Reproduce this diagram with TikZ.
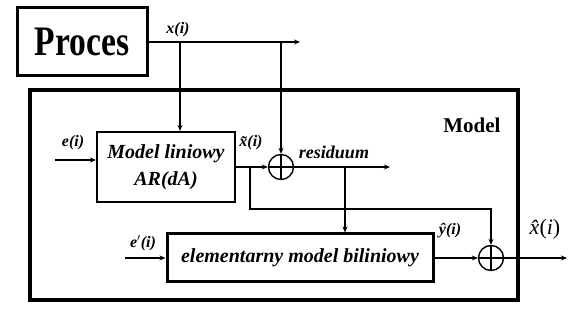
\documentclass[tikz,border=0pt]{standalone}
\usepackage{fontspec}
\newfontfamily\tms{Liberation Serif}
\usetikzlibrary{arrows.meta}
\tikzset{
  conn/.style={line width=1.6pt},
  arr/.style={conn,-{Stealth[length=6pt,width=5pt]}},
  blk/.style={draw,rectangle,inner sep=0pt,align=center,font=\tms\fontsize{20}{27}\selectfont\bfseries\itshape},
  lbl/.style={inner sep=0pt,font=\tms\fontsize{16}{16}\selectfont\bfseries\itshape},
  sumnode/.style={draw,circle,line width=1.4pt,minimum size=25pt,inner sep=0pt,
    path picture={\draw[line width=1.2pt] (path picture bounding box.north) -- (path picture bounding box.south)
      (path picture bounding box.west) -- (path picture bounding box.east);}}
}
\begin{document}
\begin{tikzpicture}[x=1pt,y=-1pt]
\useasboundingbox (0,0) rectangle (568,320);
% outer model box
\node[draw,line width=4pt,minimum width=488pt,minimum height=210pt,inner sep=0pt] (model) at (274,195) {};
\node[font=\tms\fontsize{21}{21}\selectfont\bfseries,inner sep=0pt] (mlab) at (472,125) {Model};
% process
\node[draw,line width=3pt,minimum width=130pt,minimum height=68pt,inner sep=0pt] (proc) at (82,42)
  {\scalebox{0.8}[1]{\tms\fontsize{42}{42}\selectfont\bfseries Proces}};
% linear model
\node[blk,line width=2pt,minimum width=138pt,minimum height=70pt] (lin) at (166,167) {Model liniowy\\AR(dA)};
% bilinear model
\node[blk,line width=3pt,minimum width=266pt,minimum height=48pt] (bil) at (300,258) {elementarny model biliniowy};
% summing nodes
\node[sumnode] (s1) at (281,167) {};
\node[sumnode] (s2) at (491,258) {};
% coordinates
\coordinate (xend) at (300,42);
\coordinate (j1) at (180,42);
\coordinate (j2) at (281,42);
\coordinate (ein) at (55,160);
\coordinate (j3) at (250,167);
\coordinate (c1) at (250,209);
\coordinate (resend) at (390,167);
\coordinate (j4) at (345,167);
\coordinate (epin) at (125,258);
\coordinate (xout) at (567,258);
% connectors
\draw[arr] (proc.east |- xend) -- (xend);
\draw[arr] (j1) -- (j1 |- lin.north);
\draw[arr] (j2) -- (s1.north);
\draw[arr] (ein) -- (ein -| lin.west);
\draw[arr] (lin.east |- s1) -- (s1.west);
\draw[arr] (s1.east) -- (resend);
\draw[arr] (j4) -- (j4 |- bil.north);
\draw[arr] (j3) -- (c1) -| (s2.north);
\draw[arr] (epin) -- (bil.west);
\draw[arr] (bil.east) -- (s2.west);
\draw[arr] (s2.east) -- (xout);
% labels
\node[lbl] (lx) at (178,30) {x(i)};
\node[lbl] (le) at (73,143) {e(i)};
\node[lbl] (lxt) at (251,143) {\~x(i)};
\node[lbl,font=\tms\fontsize{18}{18}\selectfont\bfseries\itshape] (lres) at (334,152) {residuum};
\node[lbl] (lep) at (143,243) {e$'$(i)};
\node[lbl] (ly) at (450,231) {\^y(i)};
\node[inner sep=0pt,font=\tms\fontsize{22}{22}\selectfont] (lxh) at (545,229) {{\itshape\^x}({\itshape i})};
\end{tikzpicture}
\end{document}
